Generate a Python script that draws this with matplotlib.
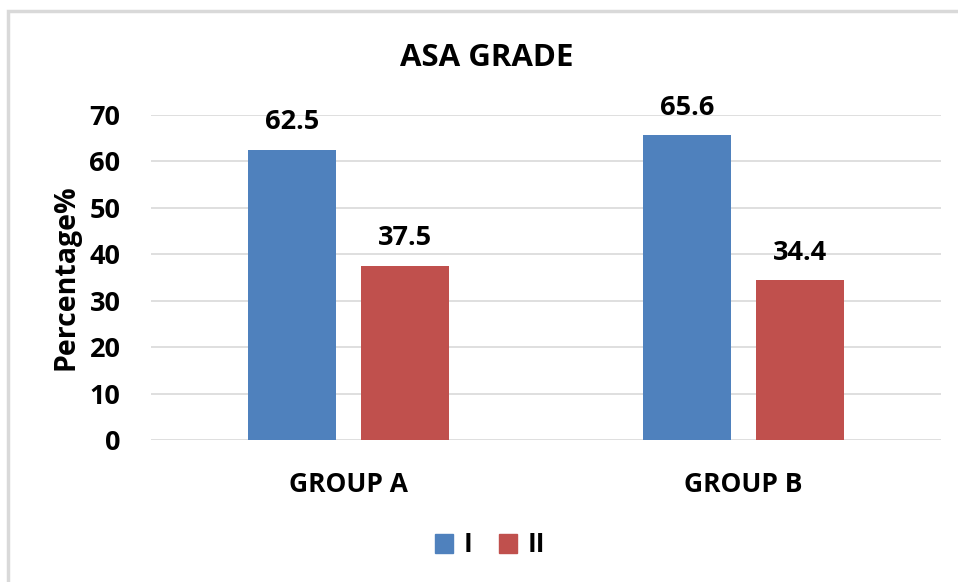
import matplotlib
matplotlib.use("Agg")
import matplotlib.pyplot as plt
from matplotlib.patches import Rectangle, Patch
import numpy as np

categories = ["GROUP A", "GROUP B"]
series_names = ["I", "II"]
grade_I = [62.5, 65.6]
grade_II = [37.5, 34.4]
y_ticks = [0, 10, 20, 30, 40, 50, 60, 70]

plt.rcParams['font.family'] = ['Open Sans', 'DejaVu Sans']
plt.rcParams['font.weight'] = 'bold'

fig = plt.figure(figsize=(9.58, 5.82), dpi=100)
ax = fig.add_axes([151/958, 1-440/582, 790/958, 325/582])

x = np.arange(len(categories))
w = 0.223
off = 0.143
colors = ["#4F81BD", "#C0504D"]
b1 = ax.bar(x - off, grade_I, w, color=colors[0], zorder=3)
b2 = ax.bar(x + off, grade_II, w, color=colors[1], zorder=3)
for bars in (b1, b2):
    for r in bars:
        ax.annotate(f"{r.get_height():.1f}", (r.get_x() + r.get_width()/2, r.get_height()),
                    xytext=(0, 10.5), textcoords="offset points", ha="center", va="bottom",
                    fontsize=19.5, fontweight="bold")

ax.set_xlim(-0.5, 1.5)
ax.set_ylim(0, 70)
ax.set_yticks(y_ticks)
ax.set_xticks(x)
ax.set_xticklabels(categories)
ax.tick_params(axis="both", length=0)
ax.tick_params(axis="y", pad=22, labelsize=19.5)
ax.tick_params(axis="x", pad=22, labelsize=19)
for lbl in ax.get_xticklabels() + ax.get_yticklabels():
    lbl.set_fontweight("bold")
ax.grid(axis="y", color="#d9d9d9", linewidth=1.2, zorder=0)
for s in ax.spines.values():
    s.set_visible(False)
ax.set_ylabel("Percentage%", fontsize=20.5, fontweight="bold", labelpad=6)

fig.text(487/958, 1-58/582, "ASA GRADE", ha="center", va="center", fontsize=22.5, fontweight="bold")

handles = [Patch(color=colors[0], label=series_names[0]), Patch(color=colors[1], label=series_names[1])]
fig.legend(handles=handles, loc="center", bbox_to_anchor=(490/958, 1-545/582), ncol=2, frameon=False,
           prop={"size": 19, "weight": "bold"}, handlelength=0.7, handleheight=0.7, handletextpad=0.4,
           columnspacing=1.0)

fig.patches.append(Rectangle((8/958, -0.1), 1.2, 1 - 11/582 + 0.1, transform=fig.transFigure,
                             fill=False, edgecolor="#d9d9d9", linewidth=2.5))

fig.savefig("out.png", dpi=100)
